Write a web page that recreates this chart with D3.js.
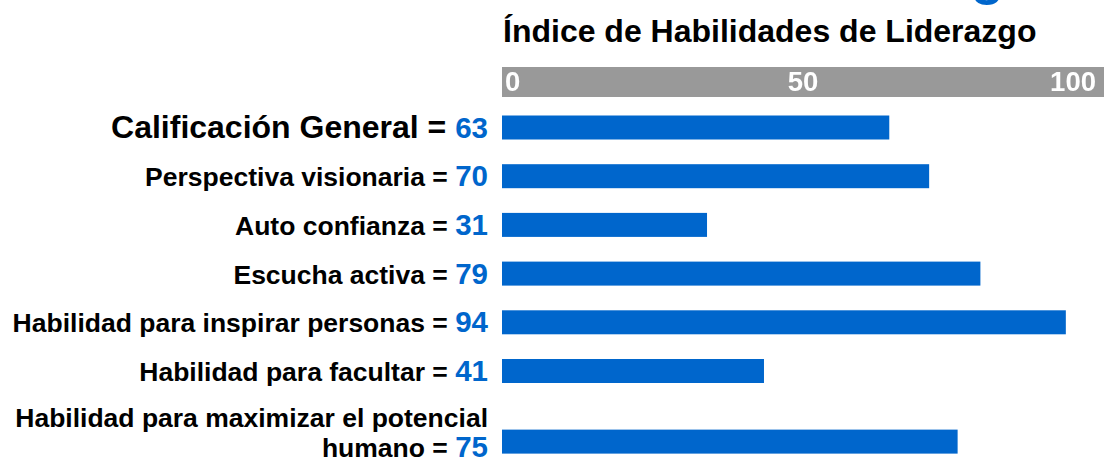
<!DOCTYPE html>
<html>
<head>
<meta charset="utf-8">
<script src="https://cdn.jsdelivr.net/npm/d3@7"></script>
<style>
  body { margin: 0; background: #fff; }
  svg { display: block; font-family: "Liberation Sans", Arial, sans-serif; font-weight: bold; }
</style>
</head>
<body>
<div class="chart"></div>
<script>
const labels = [
  ["Calificación General"],
  ["Perspectiva visionaria"],
  ["Auto confianza"],
  ["Escucha activa"],
  ["Habilidad para inspirar personas"],
  ["Habilidad para facultar"],
  ["Habilidad para maximizar el potencial", "humano"]
]
const scores = [63, 70, 31, 79, 94, 41, 75]
const ticks = [0, 50, 100]
const title = "Índice de Habilidades de Liderazgo"

const blue = "#0066cc"

const svg = d3.select(".chart").append("svg")
  .attr("width", 1104)
  .attr("height", 462)

const defs = svg.append("defs")
defs.append("filter").attr("id", "soft")
  .append("feGaussianBlur").attr("stdDeviation", 0.7)

// scale band on top
const xa = d3.scaleLinear()
  .domain([0, 100])
  .range([502, 1104])

// bars start a bit left of zero in the original
const x = d3.scaleLinear()
  .domain([-5, 100])
  .range([502, 1100])

// row slots: the two-line label takes more room
const slots = labels.map(l => l.length == 1 ? 1 : 1.9)
let acc = 0
const centers = slots.map(s => { const c = acc + s / 2; acc += s; return c })
const y = d3.scaleLinear()
  .domain([0.5, 5.5])
  .range([127.5, 371])

const rows = scores.map((v, i) => ({ lines: labels[i], val: v, cy: y(centers[i]), i: i }))

// cut off heading letter at the very top
svg.append("text")
  .attr("x", 971)
  .attr("y", -6)
  .attr("font-size", 54)
  .attr("fill", blue)
  .text("g")

svg.append("text")
  .attr("x", xa(0) + 1)
  .attr("y", 42)
  .attr("font-size", 32)
  .attr("fill", "#000")
  .text(title)

svg.append("rect")
  .attr("x", xa(0))
  .attr("y", 67)
  .attr("width", xa(100) - xa(0))
  .attr("height", 30)
  .attr("fill", "#999999")

svg.selectAll(".tick")
  .data(ticks)
  .enter()
  .append("text")
  .attr("class", "tick")
  .attr("x", (d, i) => i == 0 ? xa(d) + 3 : i == ticks.length - 1 ? xa(d) - 8 : xa(d))
  .attr("y", 91)
  .attr("text-anchor", (d, i) => i == 0 ? "start" : i == ticks.length - 1 ? "end" : "middle")
  .attr("font-size", 27.5)
  .attr("fill", "#fff")
  .attr("filter", "url(#soft)")
  .text(d => d)

svg.selectAll(".bar")
  .data(rows)
  .enter()
  .append("rect")
  .attr("class", "bar")
  .attr("x", x(-5))
  .attr("y", d => d.cy - 12)
  .attr("width", d => x(d.val) - x(-5))
  .attr("height", 24)
  .attr("fill", blue)

const lab = svg.selectAll(".label")
  .data(rows)
  .enter()
  .append("text")
  .attr("class", "label")
  .attr("text-anchor", "end")
  .attr("fill", "#000")

lab.each(function(d) {
  const t = d3.select(this)
  const big = d.i == 0
  const n = d.lines.length
  d.lines.forEach((line, k) => {
    const last = k == n - 1
    const base = n == 1 ? d.cy + 10 : d.cy + 15.5 - (n - 1 - k) * 30
    t.append("tspan")
      .attr("x", 488)
      .attr("y", base)
      .attr("font-size", big ? 32 : 26.5)
      .text(last ? line + " = " : line)
    if (last) {
      t.append("tspan")
        .attr("font-size", 29.5)
        .attr("fill", blue)
        .text(d.val)
    }
  })
})
</script>
</body>
</html>
